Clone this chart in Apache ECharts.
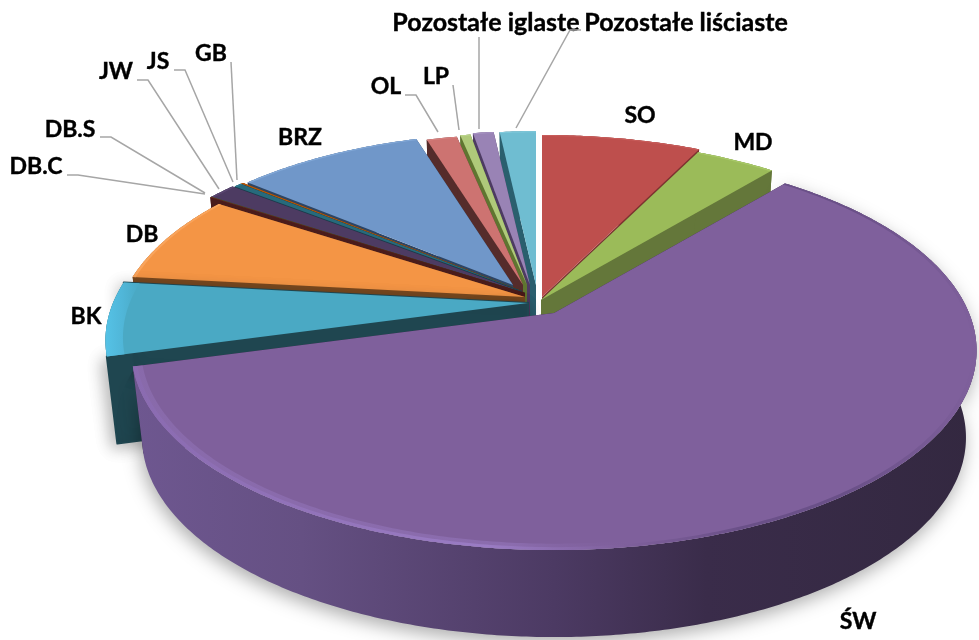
<!DOCTYPE html>
<html>
<head>
<meta charset="utf-8">
<style>html,body{margin:0;background:#fff}#chart{width:979px;height:640px}</style>
<script src="https://cdn.jsdelivr.net/npm/echarts@6/dist/echarts.min.js"></script>
</head>
<body>
<div id="chart"></div>
<script>
// clockwise from 12 o'clock
const categories = ['SO', 'MD', 'ŚW', 'BK', 'DB', 'DB.C', 'DB.S', 'JW', 'JS', 'GB', 'BRZ', 'OL', 'LP', 'Pozostałe iglaste', 'Pozostałe liściaste']
const shares = [7.3, 3.7, 59.8, 6.0, 7.5, 0.03, 0.03, 1.3, 0.35, 0.12, 9.2, 1.5, 0.5, 1.0, 1.75]

// styles
const topColors = ['#BE4F4D', '#9BBB59', '#7F609C', '#4AA9C4', '#F49545', '#772C2A', '#5F7530', '#4D3B62', '#276A7C', '#B65708', '#7097C9', '#CD7371', '#AFC97A', '#9983B5', '#6FBDD1']
const wallColors = ['#7E3230', '#64773A', '#33283F', '#1F4650', '#7A4A20', '#4A1C1B', '#3C4A1E', '#1E2E44', '#193F4B', '#6E3505', '#2E4563', '#552C2B', '#5F7530', '#4D3B62', '#2A5F6E']
const rimColors = ['#C85C5A', '#A8C968', '#9A7CC4', '#55C2E6', '#F9A45C', '#772C2A', '#5F7530', '#5A4670', '#2E7A8E', '#B65708', '#83A9D8', '#D88280', '#BAD48A', '#A792C2', '#82CBDD']

// layout: where each exploded slice's tip sits, and its rim radius factor
const tips = [[542, 297], [541, 300], [554, 313], [528, 303], [525, 297], [525, 293], [525, 293], [525, 293], [522, 291], [520, 290], [513, 285], [523, 285], [527, 285], [530, 285], [536, 285]]
const radii = [1, 1, 1, 1, 0.97, 1, 1, 1, 0.98, 0.97, 0.925, 0.92, 0.93, 0.94, 0.94]
const labelPos = [[640, 116], [753, 143], [858, 622], [86, 317], [142, 235], [36, 167], [70, 130], [116, 72], [158, 62], [211, 54], [300, 138], [386, 87], [436, 77], [486, 23], [686, 23]]
const labelSizes = [23, 23, 23, 23, 23, 23, 23, 23, 23, 23, 23, 23, 23, 25, 25]
const leaders = {
  'DB.C': [[67, 175], [78, 175], [205, 194]],
  'DB.S': [[100, 137], [111, 137], [205, 193]],
  'JW': [[137, 80], [148, 80], [219, 189]],
  'JS': [[174, 70], [185, 70], [233, 182]],
  'GB': [[231, 62], [237, 180]],
  'OL': [[405, 95], [416, 95], [438, 132]],
  'LP': [[453, 85], [459, 130]],
  'Pozostałe iglaste': [[479, 37], [479, 129]],
  'Pozostałe liściaste': [[581, 30], [570, 30], [516, 128]]
}

const persp = 0.188, rY = 192.5, rX = 415, depth = 87, bottomInset = 0.975
const total = shares.reduce((a, b) => a + b, 0)

let acc = 0
const slices = shares.map((v, i) => {
  const a0 = acc / total * Math.PI * 2
  acc += v
  return [i, a0, acc / total * Math.PI * 2]
})
// far slices first so the near ones cover them
slices.sort((a, b) => Math.cos((b[1] + b[2]) / 2) - Math.cos((a[1] + a[2]) / 2))

const rimPoint = (tip, a, r) => {
  const u = r * Math.sin(a), v = -r * Math.cos(a), s = 1 / (1 - persp * v)
  return [tip[0] + rX * u * s, tip[1] + rY * v * s]
}
const dropped = (tip, p) => [tip[0] + (p[0] - tip[0]) * bottomInset, p[1] + depth]

const arc = (tip, a0, a1, r) => {
  const n = Math.max(2, Math.ceil((a1 - a0) / 0.01))
  const pts = []
  for (let k = 0; k <= n; k++) pts.push(rimPoint(tip, a0 + (a1 - a0) * k / n, r))
  return pts
}
const hGrad = stops => new echarts.graphic.LinearGradient(0, 0, 1, 0, stops.map(s => ({ offset: s[0], color: s[1] })))

const renderSlice = (params, api) => {
  const i = api.value(0), a0 = api.value(1), a1 = api.value(2)
  const tip = tips[i], r = radii[i], big = categories[i] === 'ŚW', bk = categories[i] === 'BK'
  const outer = arc(tip, a0, a1, r)
  const bottom = outer.map(p => dropped(tip, p))
  const tipLow = [tip[0], tip[1] + depth]
  const wall = (p, q) => {
    const style = { fill: wallColors[i] }
    if (bk) Object.assign(style, { stroke: wallColors[i], lineWidth: 2, lineJoin: 'round', shadowBlur: 16, shadowColor: 'rgba(0,0,0,0.3)', shadowOffsetY: 4, shadowOffsetX: -4 })
    return { type: 'polygon', shape: { points: [tip, p, q, tipLow] }, style }
  }
  const sideFill = big
    ? hGrad([[0, '#6E5790'], [0.2, '#655083'], [0.5, '#4C3A63'], [0.68, '#3A2C4A'], [1, '#332840']])
    : wallColors[i]
  const sideStyle = { fill: sideFill }
  if (big) Object.assign(sideStyle, { shadowBlur: 18, shadowColor: 'rgba(0,0,0,0.32)', shadowOffsetY: 6, shadowOffsetX: -2 })

  const children = [
    wall(outer[0], bottom[0]),
    wall(outer[outer.length - 1], bottom[bottom.length - 1]),
    { type: 'polygon', shape: { points: outer.concat(bottom.slice().reverse()) }, style: sideStyle },
    { type: 'polygon', shape: { points: [tip].concat(outer) }, style: { fill: topColors[i] } }
  ]
  if (big) {
    // soft highlight on the near-left rim, fades out towards the right
    const wide = arc(tip, a0, a1, r * 0.978), thin = arc(tip, a0, a1, r * 0.99)
    children.push({
      type: 'polygon',
      shape: { points: outer.concat(wide.slice().reverse()) },
      style: { fill: hGrad([[0, 'rgba(148,118,188,0.45)'], [0.45, 'rgba(154,124,196,0.45)'], [0.6, 'rgba(127,96,156,0)'], [1, 'rgba(127,96,156,0)']]) }
    })
    children.push({
      type: 'polygon',
      shape: { points: outer.concat(thin.slice().reverse()) },
      style: { fill: hGrad([[0, '#8A6BB0'], [0.42, '#9A7CC4'], [0.58, '#7F609C'], [0.72, '#6A5088'], [0.85, '#6A5088'], [1, '#7F609C']]) }
    })
  } else {
    const band = arc(tip, a0, a1, r * (bk ? 0.96 : 0.992))
    children.push({
      type: 'polygon',
      shape: { points: outer.concat(band.slice().reverse()) },
      style: { fill: bk ? hGrad([[0, '#55C2E6'], [0.5, '#50B6D8'], [1, topColors[i]]]) : rimColors[i] }
    })
  }
  return { type: 'group', children }
}

const renderLabel = (params, api) => {
  const i = api.value(0), name = categories[i], pos = labelPos[i]
  const children = []
  if (leaders[name]) {
    children.push({
      type: 'polyline',
      shape: { points: leaders[name] },
      style: { stroke: '#A6A6A6', lineWidth: 1.5, fill: null }
    })
  }
  children.push({
    type: 'text',
    style: {
      x: pos[0], y: pos[1], text: name, align: 'center', verticalAlign: 'middle',
      fill: '#000', stroke: '#000', lineWidth: 0.4, font: 'bold ' + labelSizes[i] + 'px Lato'
    }
  })
  return { type: 'group', children }
}

const chart = echarts.init(document.getElementById('chart'), null, { renderer: 'canvas' })
chart.setOption({
  animation: false,
  backgroundColor: '#fff',
  series: [
    { type: 'custom', coordinateSystem: 'none', silent: true, data: slices, renderItem: renderSlice, z: 2 },
    { type: 'custom', coordinateSystem: 'none', silent: true, data: categories.map((c, i) => [i]), renderItem: renderLabel, z: 3 }
  ]
})
</script>
</body>
</html>
